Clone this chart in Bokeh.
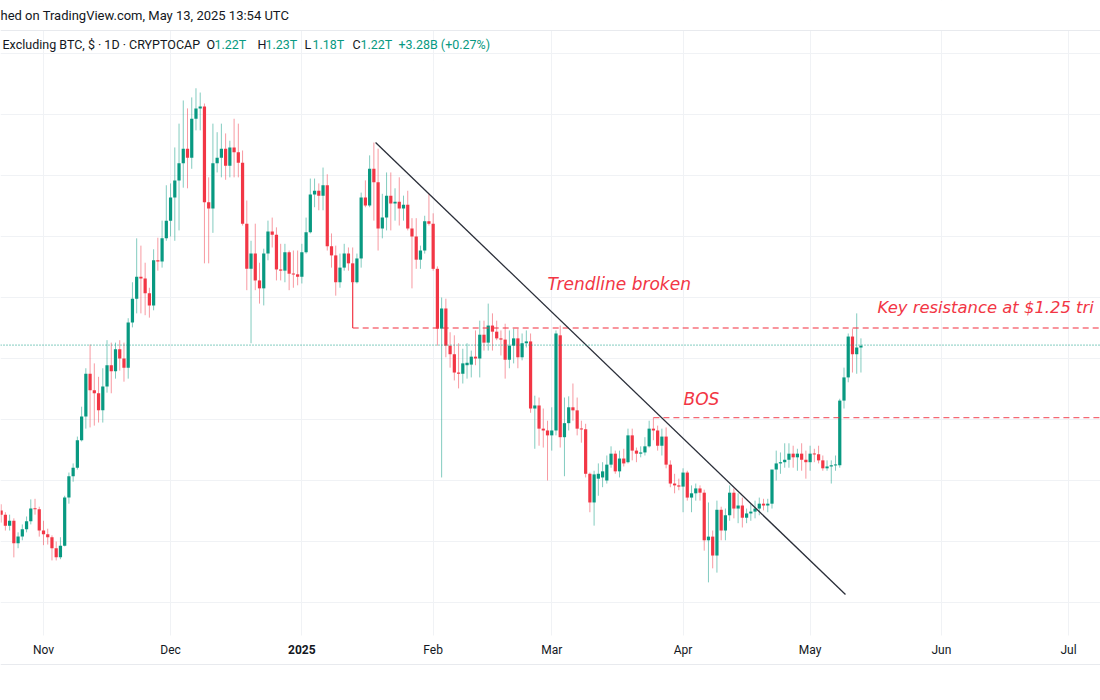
import pandas as pd
from bokeh.plotting import figure
from bokeh.models import Range1d, FixedTicker, Label, Span, BoxAnnotation, ColumnDataSource
from bokeh.core.properties import value
from bokeh.embed import file_html
from bokeh.resources import INLINE

# ---------------- data (Crypto market cap excl. BTC, trillions USD, daily) ----------------
start_date = "2024-10-22"

opens = [
    0.951, 0.944, 0.926, 0.934, 0.897, 0.908, 0.920, 0.933, 0.954, 0.953,
    0.918, 0.912, 0.907, 0.889, 0.874, 0.893, 0.972, 1.007, 1.021, 1.066,
    1.105, 1.175, 1.148, 1.143, 1.115, 1.154, 1.189, 1.179, 1.215, 1.200,
    1.185, 1.259, 1.298, 1.334, 1.331, 1.307, 1.287, 1.361, 1.359, 1.397,
    1.426, 1.464, 1.492, 1.520, 1.544, 1.529, 1.593, 1.610, 1.613, 1.456,
    1.446, 1.520, 1.529, 1.544, 1.516, 1.546, 1.538, 1.521, 1.421, 1.347,
    1.372, 1.328, 1.315, 1.372, 1.408, 1.403, 1.346, 1.344, 1.374, 1.339,
    1.338, 1.334, 1.374, 1.407, 1.469, 1.475, 1.467, 1.484, 1.384, 1.369,
    1.325, 1.349, 1.372, 1.356, 1.325, 1.364, 1.464, 1.451, 1.511, 1.489,
    1.413, 1.431, 1.467, 1.454, 1.457, 1.446, 1.452, 1.413, 1.400, 1.362,
    1.377, 1.425, 1.421, 1.347, 1.249, 1.282, 1.221, 1.207, 1.177, 1.175,
    1.189, 1.190, 1.203, 1.200, 1.239, 1.226, 1.254, 1.244, 1.233, 1.231,
    1.198, 1.221, 1.233, 1.202, 1.225, 1.228, 1.118, 1.123, 1.085, 1.082,
    1.074, 1.082, 1.238, 1.071, 1.094, 1.120, 1.115, 1.085, 1.084, 1.011,
    0.964, 1.003, 1.005, 1.000, 1.026, 1.044, 1.015, 1.036, 1.030, 1.074,
    1.049, 1.044, 1.046, 1.056, 1.085, 1.082, 1.057, 1.072, 1.026, 0.995,
    0.992, 0.990, 1.013, 0.972, 0.979, 0.987, 0.980, 0.902, 0.908, 0.877,
    0.952, 0.918, 0.943, 0.980, 0.954, 0.959, 0.939, 0.946, 0.949, 0.954,
    0.962, 0.959, 0.962, 1.018, 1.028, 1.030, 1.034, 1.044, 1.038, 1.044,
    1.034, 1.030, 1.044, 1.043, 1.033, 1.020, 1.023, 1.025, 1.025, 1.131,
    1.169, 1.236, 1.207, 1.218,
]
highs = [
    0.961, 0.948, 0.944, 0.938, 0.915, 0.928, 0.941, 0.969, 0.970, 0.957,
    0.934, 0.921, 0.910, 0.900, 0.907, 0.975, 1.013, 1.028, 1.072, 1.121,
    1.184, 1.223, 1.192, 1.170, 1.184, 1.230, 1.226, 1.226, 1.230, 1.226,
    1.266, 1.325, 1.397, 1.385, 1.357, 1.316, 1.379, 1.398, 1.426, 1.484,
    1.487, 1.546, 1.585, 1.623, 1.610, 1.628, 1.643, 1.636, 1.618, 1.497,
    1.585, 1.571, 1.585, 1.569, 1.557, 1.593, 1.585, 1.541, 1.459, 1.393,
    1.421, 1.357, 1.380, 1.426, 1.431, 1.415, 1.388, 1.388, 1.377, 1.377,
    1.377, 1.388, 1.431, 1.495, 1.495, 1.487, 1.513, 1.502, 1.405, 1.385,
    1.372, 1.388, 1.382, 1.382, 1.372, 1.472, 1.492, 1.533, 1.554, 1.544,
    1.470, 1.505, 1.505, 1.479, 1.497, 1.467, 1.475, 1.430, 1.430, 1.385,
    1.434, 1.470, 1.438, 1.351, 1.300, 1.298, 1.243, 1.238, 1.225, 1.216,
    1.225, 1.213, 1.246, 1.262, 1.262, 1.290, 1.274, 1.262, 1.246, 1.257,
    1.246, 1.249, 1.249, 1.241, 1.246, 1.241, 1.139, 1.136, 1.118, 1.098,
    1.120, 1.246, 1.254, 1.136, 1.138, 1.159, 1.136, 1.098, 1.093, 1.013,
    1.016, 1.028, 1.030, 1.041, 1.056, 1.049, 1.049, 1.052, 1.085, 1.085,
    1.054, 1.056, 1.071, 1.098, 1.103, 1.090, 1.085, 1.087, 1.033, 1.011,
    1.003, 1.020, 1.016, 0.992, 0.995, 0.992, 0.985, 0.964, 0.918, 0.967,
    0.957, 0.954, 0.992, 0.987, 0.979, 0.972, 0.954, 0.962, 0.967, 0.972,
    0.970, 0.970, 1.016, 1.049, 1.046, 1.061, 1.061, 1.057, 1.052, 1.061,
    1.049, 1.057, 1.052, 1.057, 1.041, 1.033, 1.033, 1.041, 1.134, 1.185,
    1.241, 1.249, 1.274, 1.233,
]
lows = [
    0.931, 0.918, 0.918, 0.874, 0.889, 0.902, 0.915, 0.928, 0.944, 0.908,
    0.894, 0.895, 0.869, 0.869, 0.871, 0.892, 0.962, 0.998, 1.018, 1.064,
    1.085, 1.087, 1.090, 1.095, 1.095, 1.144, 1.143, 1.167, 1.180, 1.162,
    1.167, 1.251, 1.274, 1.274, 1.271, 1.267, 1.279, 1.344, 1.349, 1.393,
    1.400, 1.393, 1.410, 1.480, 1.479, 1.511, 1.574, 1.574, 1.356, 1.356,
    1.406, 1.505, 1.497, 1.493, 1.497, 1.497, 1.497, 1.418, 1.312, 1.225,
    1.312, 1.290, 1.287, 1.361, 1.382, 1.328, 1.328, 1.325, 1.312, 1.316,
    1.320, 1.323, 1.372, 1.405, 1.448, 1.443, 1.443, 1.377, 1.349, 1.303,
    1.316, 1.344, 1.344, 1.323, 1.323, 1.349, 1.448, 1.448, 1.426, 1.377,
    1.397, 1.410, 1.410, 1.426, 1.418, 1.426, 1.410, 1.315, 1.347, 1.347,
    1.372, 1.418, 1.344, 1.221, 1.005, 1.202, 1.185, 1.164, 1.151, 1.159,
    1.167, 1.169, 1.189, 1.169, 1.213, 1.213, 1.213, 1.230, 1.205, 1.167,
    1.184, 1.192, 1.184, 1.197, 1.218, 1.111, 1.052, 1.057, 1.054, 1.000,
    1.049, 1.074, 1.054, 1.007, 1.082, 1.098, 1.074, 1.062, 1.005, 0.948,
    0.926, 0.975, 0.989, 0.995, 1.021, 1.011, 1.005, 1.023, 1.028, 1.033,
    1.030, 1.038, 1.041, 1.054, 1.066, 1.049, 1.041, 1.020, 0.989, 0.979,
    0.984, 0.948, 0.967, 0.948, 0.967, 0.967, 0.885, 0.833, 0.856, 0.849,
    0.902, 0.902, 0.934, 0.938, 0.930, 0.923, 0.930, 0.934, 0.938, 0.943,
    0.951, 0.948, 0.954, 1.000, 1.011, 1.021, 1.021, 1.021, 1.016, 1.016,
    1.003, 1.016, 1.030, 1.028, 1.016, 1.016, 0.995, 1.016, 1.021, 1.118,
    1.161, 1.177, 1.175, 1.177,
]
closes = [
    0.944, 0.926, 0.934, 0.897, 0.908, 0.920, 0.933, 0.954, 0.953, 0.918,
    0.912, 0.907, 0.889, 0.874, 0.893, 0.972, 1.007, 1.021, 1.066, 1.105,
    1.175, 1.148, 1.143, 1.115, 1.154, 1.189, 1.179, 1.215, 1.200, 1.185,
    1.259, 1.298, 1.334, 1.331, 1.307, 1.287, 1.361, 1.359, 1.397, 1.426,
    1.464, 1.492, 1.520, 1.544, 1.529, 1.593, 1.610, 1.613, 1.456, 1.446,
    1.520, 1.529, 1.544, 1.516, 1.546, 1.538, 1.521, 1.421, 1.347, 1.372,
    1.328, 1.315, 1.372, 1.408, 1.403, 1.346, 1.344, 1.374, 1.339, 1.338,
    1.334, 1.374, 1.407, 1.469, 1.475, 1.467, 1.484, 1.384, 1.369, 1.325,
    1.349, 1.372, 1.356, 1.325, 1.364, 1.464, 1.451, 1.511, 1.489, 1.413,
    1.431, 1.467, 1.454, 1.457, 1.446, 1.452, 1.413, 1.400, 1.362, 1.377,
    1.425, 1.421, 1.347, 1.249, 1.282, 1.221, 1.207, 1.177, 1.175, 1.192,
    1.193, 1.203, 1.200, 1.239, 1.226, 1.254, 1.244, 1.233, 1.231, 1.198,
    1.221, 1.233, 1.202, 1.225, 1.228, 1.118, 1.123, 1.085, 1.082, 1.074,
    1.082, 1.241, 1.071, 1.094, 1.120, 1.115, 1.085, 1.084, 1.011, 0.964,
    1.010, 1.011, 1.015, 1.026, 1.044, 1.015, 1.036, 1.028, 1.074, 1.049,
    1.044, 1.046, 1.056, 1.085, 1.082, 1.057, 1.072, 1.026, 0.995, 0.992,
    0.990, 1.013, 0.972, 0.979, 0.987, 0.980, 0.902, 0.908, 0.877, 0.952,
    0.918, 0.943, 0.980, 0.954, 0.959, 0.939, 0.946, 0.949, 0.954, 0.962,
    0.959, 0.962, 1.018, 1.028, 1.030, 1.034, 1.044, 1.038, 1.044, 1.034,
    1.030, 1.044, 1.043, 1.033, 1.020, 1.023, 1.025, 1.026, 1.131, 1.169,
    1.236, 1.207, 1.218, 1.221,
]

month_starts = ["2024-11-01", "2024-12-01", "2025-01-01", "2025-02-01", "2025-03-01",
                "2025-04-01", "2025-05-01", "2025-06-01", "2025-07-01"]
month_labels = ["Nov", "Dec", "2025", "Feb", "Mar", "Apr", "May", "Jun", "Jul"]
price_grid = [0.8, 0.9, 1.0, 1.1, 1.2, 1.3, 1.4, 1.5, 1.6, 1.7]

# drawings
trend_dates = ["2025-01-18", "2025-05-09"]     # trendline anchors (approx.)
trend_frac = [0.4, 0.35]
trend_values = [1.554, 0.813]
resistance_date = "2025-01-13"
resistance_from = 1.325
resistance_level = 1.25
bos_date = "2025-03-25"
bos_level = 1.103
last_price = 1.222

header1 = "hed on TradingView.com, May 13, 2025 13:54 UTC"
header2 = "Excluding BTC, $ \u00b7 1D \u00b7 CRYPTOCAP"
ohlc_labels = ["O", "H", "L", "C"]
ohlc_values = ["1.22T", "1.23T", "1.18T", "1.22T"]
change_text = "+3.28B (+0.27%)"
note_trend = "Trendline broken"
note_bos = "BOS"
note_key = "Key resistance at $1.25 tri"

# ---------------- layout helpers ----------------
GREEN = "#089981"
RED = "#f23645"
TXT = "#131722"
GRID = "#f0f2f5"
W, H = 1100, 700
PANE_TOP, PANE_BOTTOM = 30, 635
X0, X1 = -0.152, 259.56
PX_PER_T = 610.0
Y1 = 1.20 + 358 / PX_PER_T
Y0 = Y1 - H / PX_PER_T

t0 = pd.Timestamp(start_date)
def day(d):
    return (pd.Timestamp(d) - t0).days

def px_x(px):
    return X0 + px / W * (X1 - X0)

def px_y(py):
    return Y1 - py / PX_PER_T

n = len(closes)
xs = list(range(n))
colors = [GREEN if c >= o else RED for o, c in zip(opens, closes)]
min_h = 1.0 / PX_PER_T
tops, bots = [], []
for o, c in zip(opens, closes):
    t, b = max(o, c), min(o, c)
    if t - b < min_h:
        mid = (t + b) / 2
        t, b = mid + min_h / 2, mid - min_h / 2
    tops.append(t)
    bots.append(b)

src = ColumnDataSource(dict(x=xs, o=opens, h=highs, l=lows, c=closes,
                            top=tops, bot=bots, color=colors))

p = figure(width=W, height=H, output_backend="svg", toolbar_location=None,
           x_range=Range1d(X0, X1), y_range=Range1d(Y0, Y1),
           x_axis_location=None, y_axis_location=None,
           min_border_left=0, min_border_right=0, min_border_top=0, min_border_bottom=0)
p.outline_line_color = None
p.background_fill_color = "white"
p.border_fill_color = "white"

month_idx = [day(m) for m in month_starts]
p.xgrid.ticker = FixedTicker(ticks=month_idx)
p.ygrid.ticker = FixedTicker(ticks=price_grid)
p.xgrid.grid_line_color = GRID
p.ygrid.grid_line_color = GRID

# white bands above and below the price pane (hide grid there)
p.add_layout(BoxAnnotation(bottom=px_y(PANE_TOP), top=Y1 + 1, left=X0 - 5, right=X1 + 5,
                           fill_color="white", fill_alpha=1.0, line_color=None, level="underlay"))
p.add_layout(BoxAnnotation(bottom=Y0 - 1, top=px_y(PANE_BOTTOM), left=X0 - 5, right=X1 + 5,
                           fill_color="white", fill_alpha=1.0, line_color=None, level="underlay"))
p.add_layout(Span(location=px_y(PANE_TOP), dimension="width", line_color="#e8eaee", line_width=1))
p.add_layout(Span(location=px_y(664), dimension="width", line_color="#e8eaee", line_width=1))

# time-scale labels
tick_src = ColumnDataSource(dict(x=month_idx, y=[px_y(649)] * len(month_idx), text=month_labels,
                                 style=["bold" if lab.isdigit() else "normal" for lab in month_labels]))
p.text(x="x", y="y", text="text", source=tick_src, text_font=value("Roboto"),
       text_font_size=value("12px"), text_font_style="style", text_color=TXT,
       text_align="center", text_baseline="middle")

# candles
p.segment(x0="x", y0="l", x1="x", y1="h", source=src, line_color="color",
          line_alpha=0.5, line_width=1)
p.vbar(x="x", width=0.76, top="top", bottom="bot", source=src,
       fill_color="color", line_color=None)

# horizontal levels
x_end = X1 + 5
r_x = day(resistance_date)
p.segment(x0=[r_x], y0=[resistance_from], x1=[r_x], y1=[resistance_level],
          line_color=RED, line_width=1.2)
p.segment(x0=[r_x], y0=[resistance_level], x1=[x_end], y1=[resistance_level],
          line_color=RED, line_alpha=0.7, line_width=1.3, line_dash="6 4")
b_x = day(bos_date)
p.segment(x0=[b_x], y0=[bos_level], x1=[x_end], y1=[bos_level],
          line_color=RED, line_alpha=0.75, line_width=1.3, line_dash="6 4")
p.add_layout(Span(location=last_price, dimension="width", line_color=GREEN,
                  line_width=1, line_dash="1 2"))

# trendline
tx = [day(d) + f for d, f in zip(trend_dates, trend_frac)]
p.line(x=tx, y=trend_values, line_color="#2a2e39", line_width=1.3)

# annotations
def ann(text, px, py, color=RED, size="17px", style="italic", font="DejaVu Sans", align="left"):
    p.add_layout(Label(x=px_x(px), y=px_y(py), text=text, text_color=color,
                       text_font_size=size, text_font_style=style, text_font=font,
                       text_baseline="middle", text_align=align))

ann(note_trend, 547, 283)
ann(note_bos, 683, 398)
ann(note_key, 877, 307, size="16.4px")

ann(header1, 0, 15, color=TXT, size="13px", style="normal", font="Roboto")
ann(header2, 2, 44, color=TXT, size="12.5px", style="normal", font="Roboto")
ohlc_px = [206, 257, 304, 352]
for lab, val, xpx in zip(ohlc_labels, ohlc_values, ohlc_px):
    ann(lab, xpx, 44, color=TXT, size="12.5px", style="normal", font="Roboto")
    ann(val, xpx + 8, 44, color=GREEN, size="12.5px", style="normal", font="Roboto")
ann(change_text, 398, 44, color=GREEN, size="12.5px", style="normal", font="Roboto")

open("out.html", "w").write(file_html(p, INLINE))
